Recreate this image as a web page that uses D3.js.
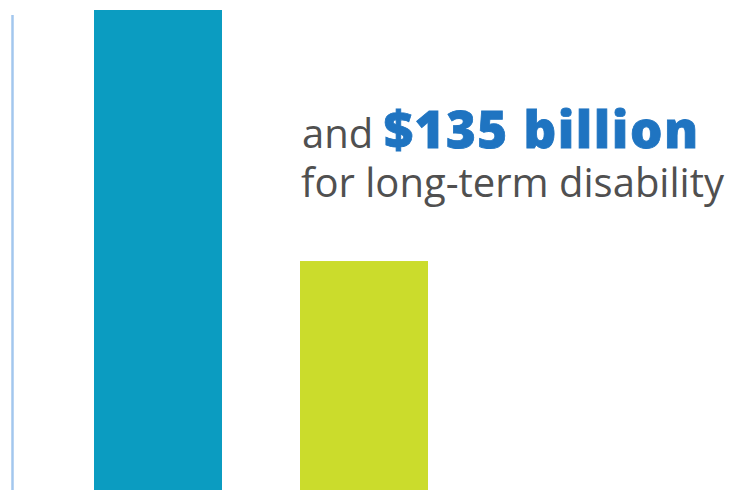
<!DOCTYPE html>
<html>
<head>
<meta charset="utf-8">
<script src="https://cdn.jsdelivr.net/npm/d3@7"></script>
<style>
  html, body { margin: 0; padding: 0; background: #fff; }
  svg { display: block; }
</style>
</head>
<body>
<svg id="chart" width="732" height="490"></svg>
<script>
// Disability cost comparison, in billions of dollars
const categories = ["short-term disability", "long-term disability"];
const values = [283, 135];
const barColors = ["#0b9cc1", "#cbdc2c"];
const calloutLead = "and ";
const calloutAmount = "$135 billion";
const calloutTail = "for long-term disability";

const W = 732, H = 490;
const svg = d3.select("#chart");

const x = d3.scaleBand()
  .domain(categories)
  .range([94, 428])
  .paddingInner(78 / 206)
  .paddingOuter(0);

const y = d3.scaleLinear()
  .domain([0, d3.max(values)])
  .range([H, 10]);

// vertical axis rule on the left
svg.append("line")
  .attr("x1", 12.5).attr("x2", 12.5)
  .attr("y1", 15).attr("y2", H)
  .attr("stroke", "#a3c7ee")
  .attr("stroke-width", 2.5);

svg.selectAll("rect.bar")
  .data(categories)
  .join("rect")
  .attr("class", "bar")
  .attr("x", d => x(d))
  .attr("width", x.bandwidth())
  .attr("y", (d, i) => y(values[i]))
  .attr("height", (d, i) => H - y(values[i]))
  .attr("fill", (d, i) => barColors[i]);

// callout text beside the long-term bar
const t1 = svg.append("text")
  .attr("x", 302)
  .attr("y", 148)
  .attr("font-family", "'Open Sans', sans-serif");
t1.append("tspan")
  .attr("font-size", 40)
  .attr("fill", "#505050")
  .text(calloutLead);
t1.append("tspan")
  .attr("font-size", 51)
  .attr("font-weight", 800)
  .attr("letter-spacing", 1.5)
  .attr("fill", "#1f74c1")
  .attr("stroke", "#1f74c1")
  .attr("stroke-width", 0.8)
  .text(calloutAmount);

svg.append("text")
  .attr("x", 301)
  .attr("y", 197)
  .attr("font-family", "'Open Sans', sans-serif")
  .attr("font-size", 40)
  .attr("fill", "#505050")
  .text(calloutTail);
</script>
</body>
</html>
